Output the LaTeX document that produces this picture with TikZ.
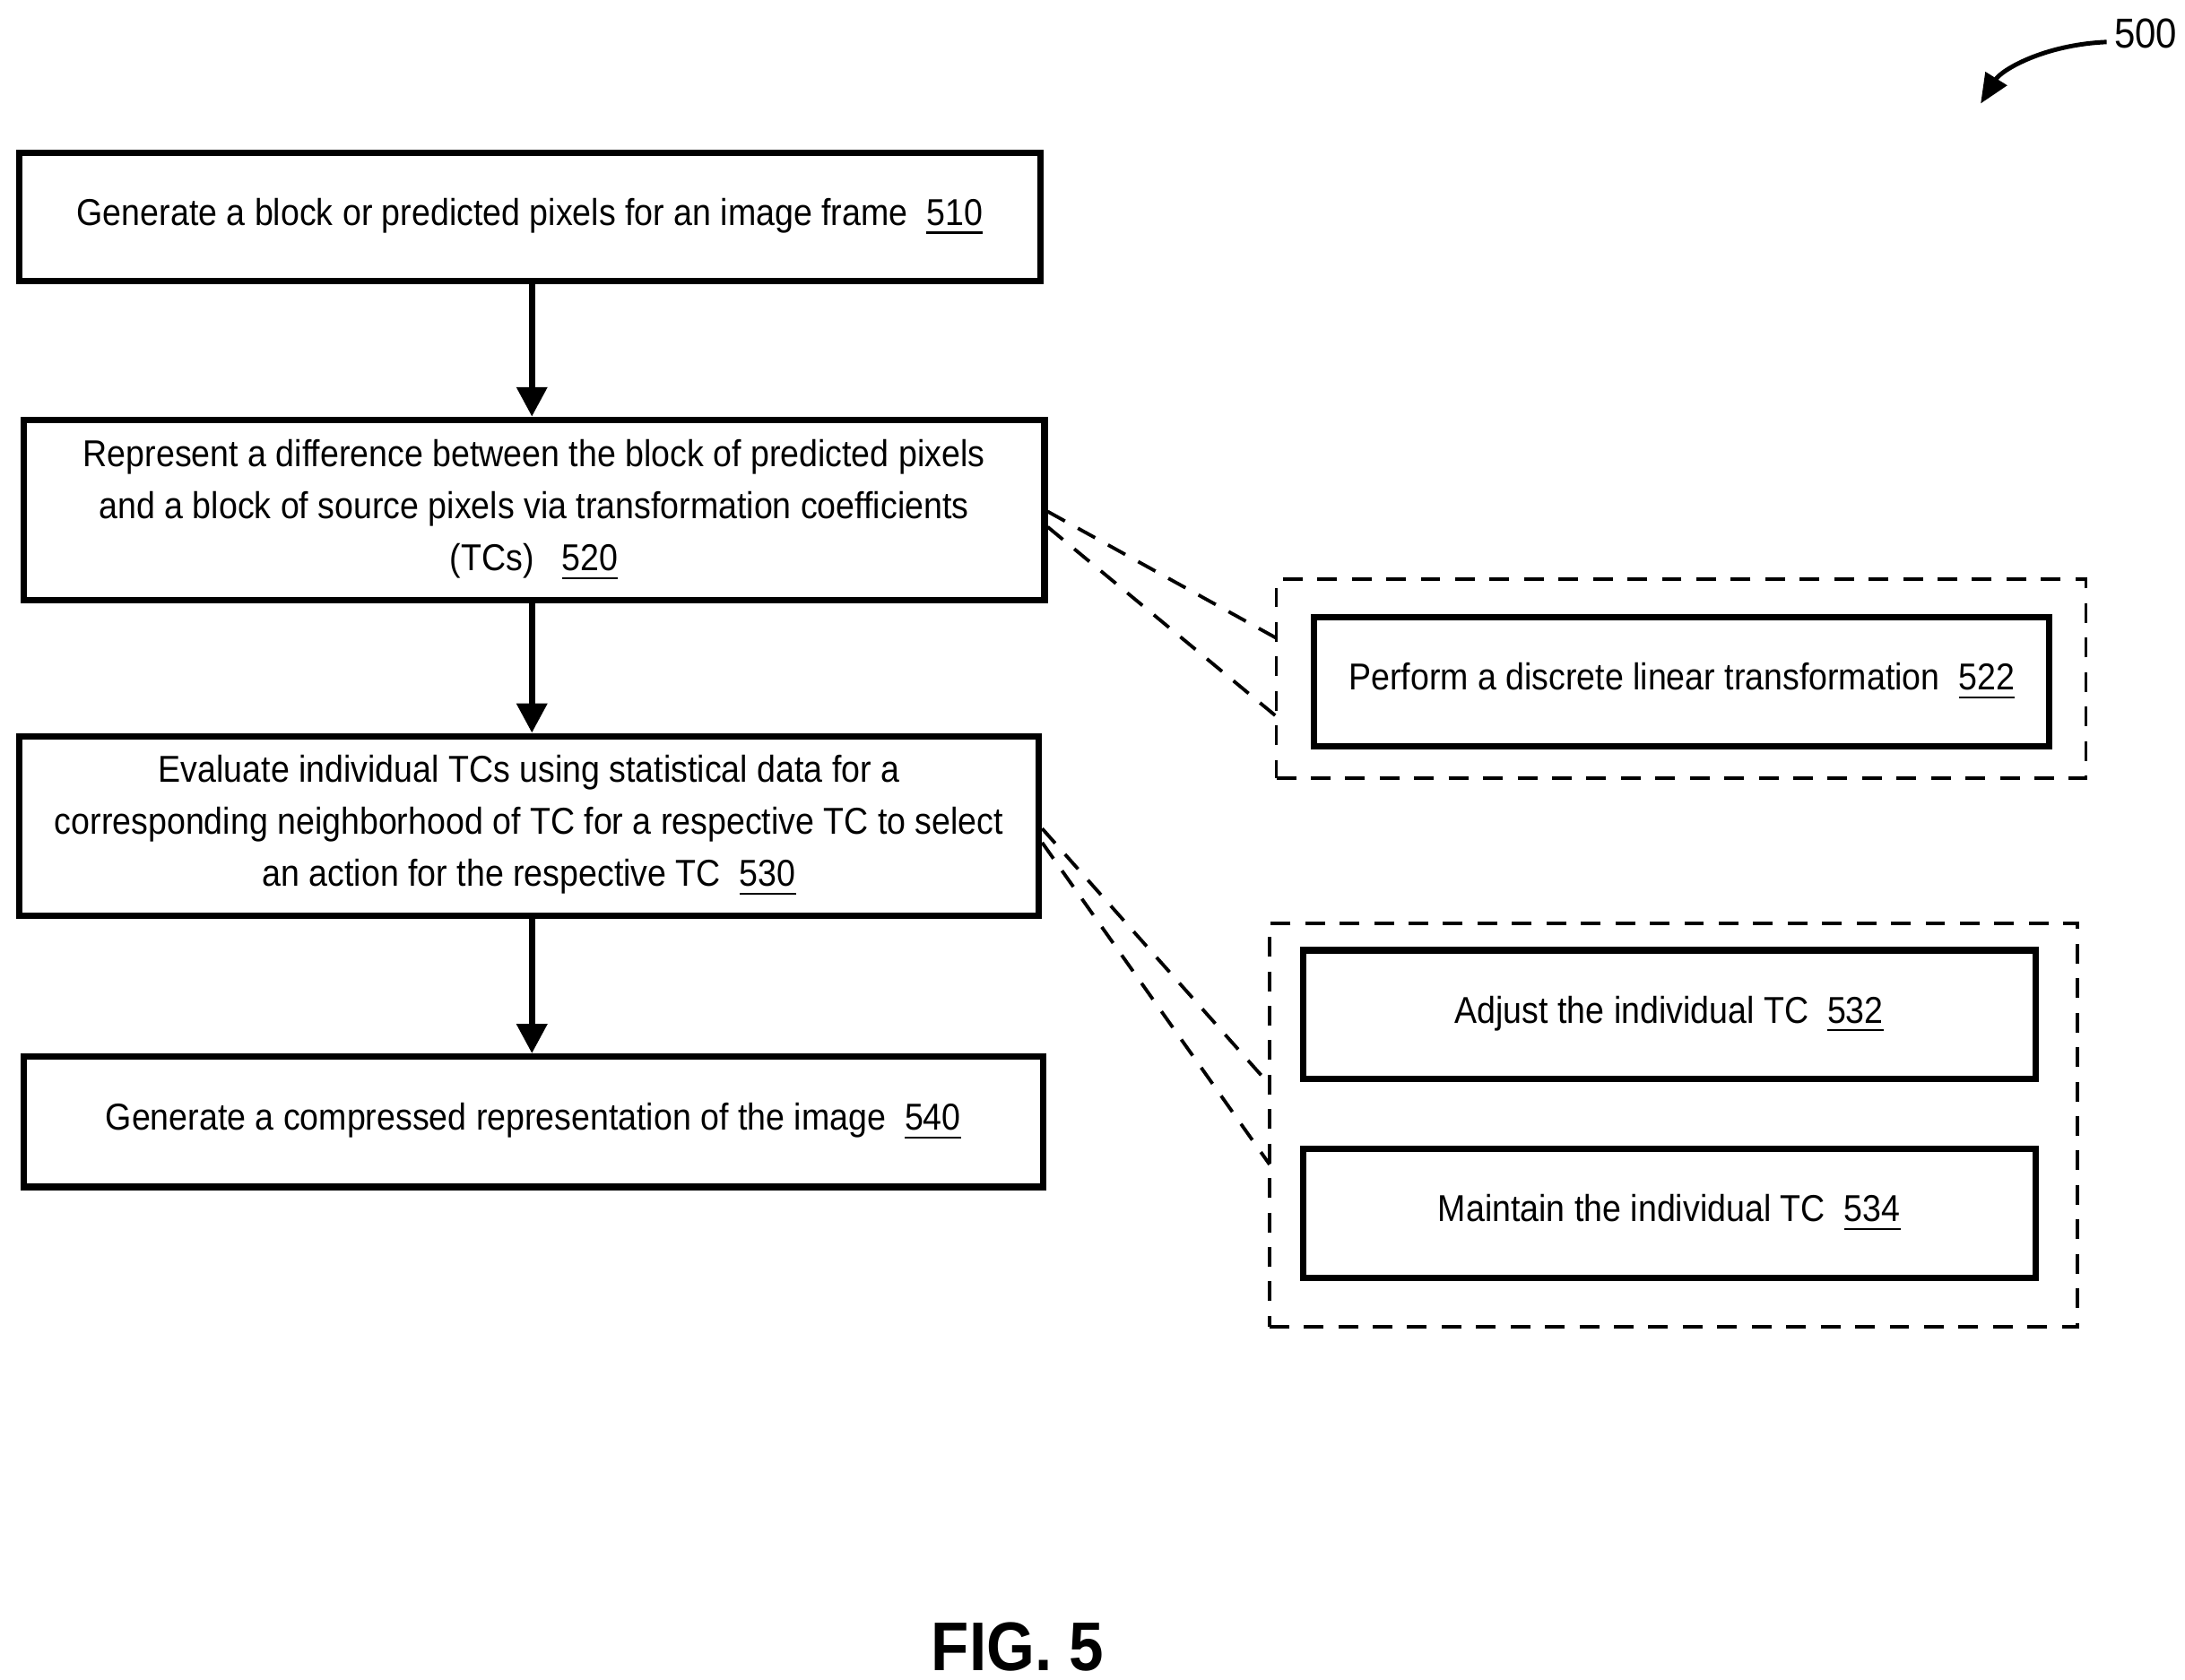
\documentclass[tikz,border=0pt]{standalone}
\usepackage{fontspec}
\setmainfont{Liberation Sans}[FakeStretch=0.9]
\usetikzlibrary{arrows.meta}
\begin{document}
\begin{tikzpicture}[x=0.01cm,y=-0.01cm,
 box/.style={draw,line width=1.3pt,inner sep=0pt,align=center,font=\fontsize{7.6}{10.6}\selectfont},
 grp/.style={draw,dashed,line width=0.7pt,dash pattern=on 4pt off 3pt},
 dl/.style={line width=0.7pt,dash pattern=on 4pt off 3pt},
 arr/.style={-{Triangle[length=6pt,width=6pt]},line width=1.3pt}]
\useasboundingbox (0,0) rectangle (1561,1200);
\newcommand{\rn}[1]{\underline{#1}}
\node[box,minimum width=7.29cm,minimum height=0.92cm] (b510) at (378.5,155) {Generate a block or predicted pixels for an image frame\ \ \rn{510}};
\node[box,minimum width=7.29cm,minimum height=1.29cm] (b520) at (381.5,364.5) {Represent a difference between the block of predicted pixels\\and a block of source pixels via transformation coefficients\\(TCs)\ \ \ \rn{520}};
\node[box,minimum width=7.28cm,minimum height=1.28cm] (b530) at (378,590) {Evaluate individual TCs using statistical data for a\\corresponding neighborhood of TC for a respective TC to select\\an action for the respective TC\ \ \rn{530}};
\node[box,minimum width=7.28cm,minimum height=0.93cm] (b540) at (381,801.5) {Generate a compressed representation of the image\ \ \rn{540}};
\node[grp,minimum width=5.78cm,minimum height=1.42cm] (g1) at (1201,485) {};
\node[box,minimum width=5.25cm,minimum height=0.92cm] (b522) at (1201.5,487) {Perform a discrete linear transformation\ \ \rn{522}};
\node[grp,minimum width=5.77cm,minimum height=2.88cm] (g2) at (1195.5,804) {};
\node[box,minimum width=5.23cm,minimum height=0.92cm] (b532) at (1192.5,725) {Adjust the individual TC\ \ \rn{532}};
\node[box,minimum width=5.23cm,minimum height=0.92cm] (b534) at (1192.5,867) {Maintain the individual TC\ \ \rn{534}};
\coordinate (a1) at (912,456); \coordinate (a2) at (912,512);
\coordinate (c1) at (907,775); \coordinate (c2) at (907,832);
\draw[dl] (b520.east)++(0,1) -- (a1);
\draw[dl] (b520.east)++(0,12) -- (a2);
\draw[dl] (b530.east)++(0,2) -- (c1);
\draw[dl] (b530.east)++(0,12) -- (c2);
\draw[arr] (b510.south -| 380,0) -- (b520.north -| 380,0);
\draw[arr] (b520.south -| 380,0) -- (b530.north -| 380,0);
\draw[arr] (b530.south -| 380,0) -- (b540.north -| 380,0);
\node[font=\fontsize{8.5}{10}\selectfont] (l500) at (1533,24) {500};
\coordinate (t500) at (1415,74);
\draw[-{Triangle[length=6pt,width=5pt]},line width=0.9pt] (1505,30) .. controls (1460,32) and (1430,50) .. (t500);
\node[font=\bfseries\fontsize{14}{17}\selectfont] (fig) at (727,1177) {FIG. 5};
\end{tikzpicture}
\end{document}
